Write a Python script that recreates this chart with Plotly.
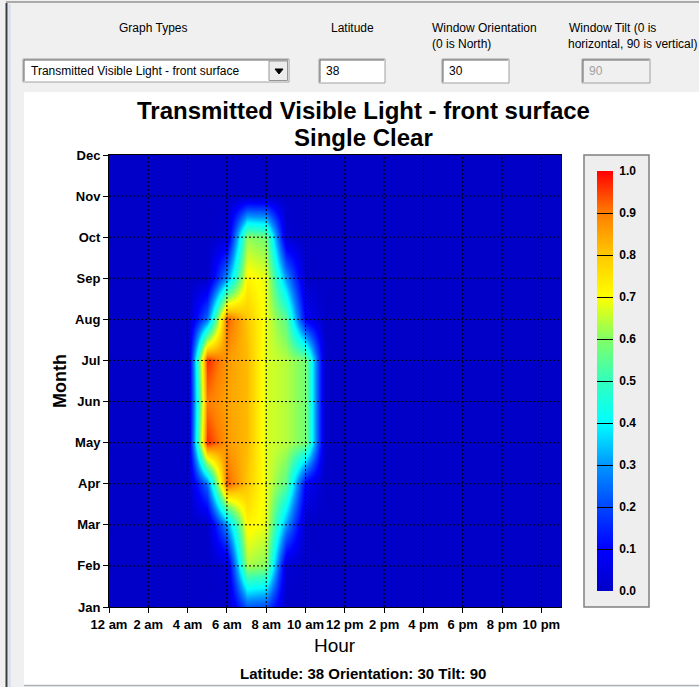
import plotly.graph_objects as go

# ---------------- data ----------------
months = ['Jan', 'Feb', 'Mar', 'Apr', 'May', 'Jun', 'Jul', 'Aug', 'Sep', 'Oct', 'Nov', 'Dec']
month_pos = list(range(12))
hours = list(range(24))
hour_tick_vals = [0, 2, 4, 6, 8, 10, 12, 14, 16, 18, 20, 22]
hour_tick_labels = ['12 am', '2 am', '4 am', '6 am', '8 am', '10 am',
                    '12 pm', '2 pm', '4 pm', '6 pm', '8 pm', '10 pm']
cbar_ticks = [0.0, 0.1, 0.2, 0.3, 0.4, 0.5, 0.6, 0.7, 0.8, 0.9, 1.0]

# transmitted visible light (fraction), one list per month, hours 0..23
tvl_jan = [0, 0, 0, 0, 0, 0, 0.00, 0.22, 0.20, 0.00, 0.00, 0, 0, 0, 0, 0, 0, 0, 0, 0, 0, 0, 0, 0]
tvl_feb = [0, 0, 0, 0, 0, 0, 0.02, 0.63, 0.60, 0.02, 0.00, 0, 0, 0, 0, 0, 0, 0, 0, 0, 0, 0, 0, 0]
tvl_mar = [0, 0, 0, 0, 0, 0, 0.30, 0.72, 0.68, 0.30, 0.00, 0, 0, 0, 0, 0, 0, 0, 0, 0, 0, 0, 0, 0]
tvl_apr = [0, 0, 0, 0, 0, 0.25, 0.93, 0.80, 0.68, 0.55, 0.08, 0, 0, 0, 0, 0, 0, 0, 0, 0, 0, 0, 0, 0]
tvl_may = [0, 0, 0, 0, 0, 0.97, 0.86, 0.82, 0.67, 0.64, 0.58, 0, 0, 0, 0, 0, 0, 0, 0, 0, 0, 0, 0, 0]
tvl_jun = [0, 0, 0, 0, 0, 0.90, 0.85, 0.82, 0.67, 0.64, 0.58, 0, 0, 0, 0, 0, 0, 0, 0, 0, 0, 0, 0, 0]
tvl_jul = [0, 0, 0, 0, 0, 0.97, 0.86, 0.82, 0.67, 0.64, 0.58, 0, 0, 0, 0, 0, 0, 0, 0, 0, 0, 0, 0, 0]
tvl_aug = [0, 0, 0, 0, 0, 0.25, 0.93, 0.80, 0.68, 0.55, 0.08, 0, 0, 0, 0, 0, 0, 0, 0, 0, 0, 0, 0, 0]
tvl_sep = [0, 0, 0, 0, 0, 0, 0.30, 0.72, 0.68, 0.30, 0.00, 0, 0, 0, 0, 0, 0, 0, 0, 0, 0, 0, 0, 0]
tvl_oct = [0, 0, 0, 0, 0, 0, 0.02, 0.61, 0.58, 0.02, 0.00, 0, 0, 0, 0, 0, 0, 0, 0, 0, 0, 0, 0, 0]
tvl_nov = [0, 0, 0, 0, 0, 0, 0.00, 0.00, 0.00, 0.00, 0.00, 0, 0, 0, 0, 0, 0, 0, 0, 0, 0, 0, 0, 0]
tvl_dec = [0, 0, 0, 0, 0, 0, 0.00, 0.00, 0.00, 0.00, 0.00, 0, 0, 0, 0, 0, 0, 0, 0, 0, 0, 0, 0, 0]

z = [tvl_jan, tvl_feb, tvl_mar, tvl_apr, tvl_may, tvl_jun,
     tvl_jul, tvl_aug, tvl_sep, tvl_oct, tvl_nov, tvl_dec]

# ---------------- layout helpers ----------------
W, H = 699, 687
ML, MR, MT, MB = 109, 138, 155, 80
PW = W - ML - MR
PH = H - MT - MB


def px(x):
    return (x - ML) / PW


def py(y):
    return (H - MB - y) / PH


FONT = 'Liberation Sans'
GRAY_BG = 'rgb(240,240,240)'

colorscale = [
    [0.0, 'rgb(0,0,200)'],
    [0.1, 'rgb(0,0,255)'],
    [0.2, 'rgb(0,70,255)'],
    [0.3, 'rgb(0,150,255)'],
    [0.4, 'rgb(0,255,255)'],
    [0.5, 'rgb(50,255,190)'],
    [0.6, 'rgb(130,255,100)'],
    [0.7, 'rgb(255,255,0)'],
    [0.8, 'rgb(255,200,0)'],
    [0.9, 'rgb(255,125,0)'],
    [1.0, 'rgb(255,0,0)'],
]

NB = '\u00a0'
fig = go.Figure()
fig.add_trace(go.Heatmap(
    z=z, x=hours, y=month_pos,
    zmin=0, zmax=1, zsmooth='best',
    colorscale=colorscale,
    colorbar=dict(
        x=px(584), xanchor='left', y=0.5, yanchor='middle',
        len=1.0, lenmode='fraction', thickness=16, thicknessmode='pixels',
        xpad=13, ypad=16,
        bgcolor='rgba(0,0,0,0)', borderwidth=0,
        outlinewidth=0,
        tickvals=cbar_ticks, ticktext=[NB + '%.1f' % v for v in cbar_ticks],
        ticks='inside', ticklen=16, tickwidth=1, tickcolor='black',
        tickfont=dict(family=FONT, size=12, color='black', weight='bold'),
    ),
    hoverinfo='skip',
))

shapes = []
annotations = []

# app chrome
shapes.append(dict(type='rect', xref='paper', yref='paper', layer='below',
                   x0=px(24), x1=px(W + 2), y0=py(685), y1=py(92),
                   fillcolor='white', line=dict(width=0)))
# colour bar frame
shapes.append(dict(type='rect', xref='paper', yref='paper', layer='below',
                   x0=px(584), x1=px(649), y0=py(607), y1=py(155),
                   fillcolor='rgb(238,238,238)', line=dict(color='rgb(128,128,128)', width=1.5)))
shapes.append(dict(type='line', xref='paper', yref='paper',
                   x0=px(24), x1=px(W + 2), y0=py(685.5), y1=py(685.5),
                   line=dict(color='rgb(170,178,186)', width=1.5)))
shapes.append(dict(type='line', xref='paper', yref='paper',
                   x0=px(6.5), x1=px(6.5), y0=py(688), y1=py(3),
                   line=dict(color='rgb(60,60,60)', width=2)))
shapes.append(dict(type='line', xref='paper', yref='paper',
                   x0=px(9.5), x1=px(9.5), y0=py(688), y1=py(4),
                   line=dict(color='rgb(205,220,238)', width=2)))
shapes.append(dict(type='line', xref='paper', yref='paper',
                   x0=px(6), x1=px(W + 2), y0=py(2), y1=py(2),
                   line=dict(color='rgb(170,170,170)', width=2)))


def sunken_box(x0, y0, x1, y1, fill):
    shapes.append(dict(type='rect', xref='paper', yref='paper',
                       x0=px(x0), x1=px(x1), y0=py(y1), y1=py(y0),
                       fillcolor=fill, line=dict(color='rgb(160,160,160)', width=1)))
    shapes.append(dict(type='path', xref='paper', yref='paper',
                       path='M %f %f L %f %f L %f %f' % (px(x0 + 1), py(y1 - 1), px(x0 + 1), py(y0 + 1),
                                                         px(x1 - 1), py(y0 + 1)),
                       line=dict(color='rgb(100,100,100)', width=1)))


sunken_box(23, 59, 289, 82, 'white')
shapes.append(dict(type='rect', xref='paper', yref='paper',
                   x0=px(269), x1=px(287.5), y0=py(80.5), y1=py(61),
                   fillcolor='rgb(236,236,236)', line=dict(color='rgb(150,150,150)', width=1)))
shapes.append(dict(type='path', xref='paper', yref='paper',
                   path='M %f %f L %f %f L %f %f Z' % (px(275), py(69), px(283), py(69), px(279), py(74)),
                   fillcolor='black', line=dict(color='black', width=1)))
sunken_box(319, 59, 385, 83, 'white')
sunken_box(442, 59, 509, 83, 'white')
sunken_box(582, 59, 650, 83, 'rgb(240,240,240)')

UI = dict(family=FONT, size=12, color='black')


def label(text, x, y, xanchor='center', font=None, yanchor='middle'):
    annotations.append(dict(text=text, x=px(x), y=py(y), xref='paper', yref='paper',
                            xanchor=xanchor, yanchor=yanchor, showarrow=False,
                            font=font or UI))


label('Graph Types', 153, 28)
label('Latitude', 352, 28)
label('Window Orientation', 430, 28, 'left')
label('(0 is North)', 430, 44, 'left')
label('Window Tilt (0 is', 567, 28, 'left')
label('horizontal, 90 is vertical)', 566, 44, 'left')
label('Transmitted Visible Light - front surface', 29, 71, 'left')
label('38', 324, 71, 'left')
label('30', 447, 71, 'left')
label('90', 587, 71, 'left', dict(family=FONT, size=12, color='rgb(160,160,160)'))

# chart titles
label('<b>Transmitted Visible Light - front surface</b>', 363, 110,
      font=dict(family=FONT, size=24, color='black'))
label('<b>Single Clear</b>', 363, 137, font=dict(family=FONT, size=24, color='black'))
label('Hour', 335, 645, font=dict(family=FONT, size=19, color='black'))
label('<b>Latitude: 38 Orientation: 30 Tilt: 90</b>', 363, 673,
      font=dict(family=FONT, size=15, color='black'))
annotations.append(dict(text='<b>Month</b>', x=px(60), y=py(381), xref='paper', yref='paper',
                        textangle=-90, showarrow=False, xanchor='center', yanchor='middle',
                        font=dict(family=FONT, size=18, color='black')))

# dotted grid on top of the heatmap
GRID = dict(color='black', width=1, dash='2px,2px')
for v in hour_tick_vals[1:]:
    shapes.append(dict(type='line', xref='x', yref='paper', x0=v, x1=v, y0=0, y1=1,
                       line=GRID, layer='above'))
for v in month_pos[1:-1]:
    shapes.append(dict(type='line', xref='paper', yref='y', x0=0, x1=1, y0=v, y1=v,
                       line=GRID, layer='above'))

TICKFONT = dict(family=FONT, size=13, color='black', weight='bold')
fig.update_layout(
    width=W, height=H,
    margin=dict(l=ML, r=MR, t=MT, b=MB, pad=0),
    paper_bgcolor=GRAY_BG, plot_bgcolor='white',
    showlegend=False,
    shapes=shapes, annotations=annotations,
    xaxis=dict(range=[0, 23], tickvals=hour_tick_vals, ticktext=hour_tick_labels,
               ticks='outside', ticklen=5, tickcolor='black', tickwidth=1,
               showline=True, linecolor='black', linewidth=1, mirror=True,
               showgrid=False, zeroline=False, tickfont=TICKFONT, fixedrange=True),
    yaxis=dict(range=[0, 11], tickvals=month_pos, ticktext=months,
               ticks='outside', ticklen=5, tickcolor='black', tickwidth=1,
               showline=True, linecolor='black', linewidth=1, mirror=True,
               showgrid=False, zeroline=False, tickfont=TICKFONT, fixedrange=True),
)

fig.write_html('out.html', config={'displayModeBar': False},
               post_script="document.body.style.margin='0';document.body.style.overflow='hidden';")
